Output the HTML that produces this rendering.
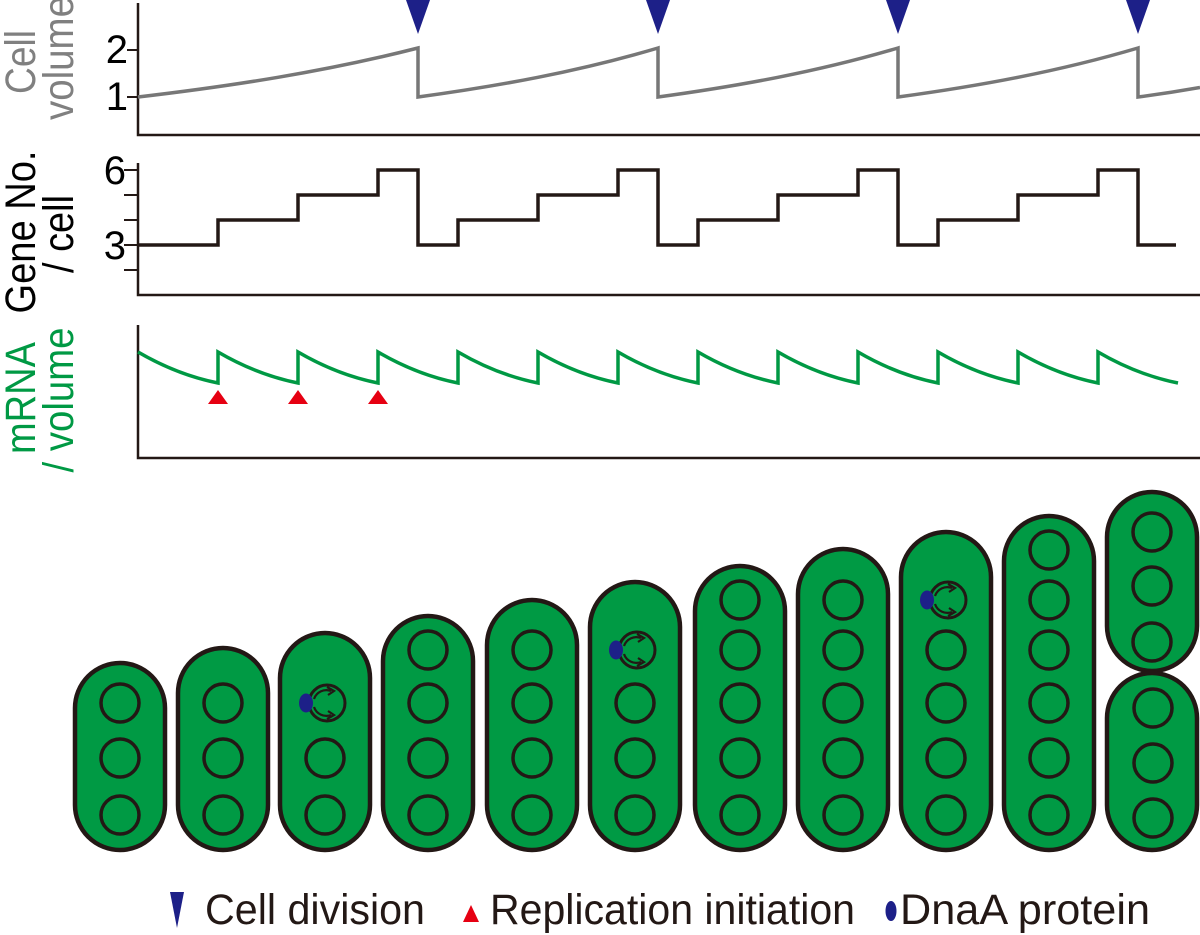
<!DOCTYPE html>
<html><head><meta charset="utf-8"><style>
html,body{margin:0;padding:0;background:#fff}
svg{display:block}
text{font-family:"Liberation Sans",Arial,sans-serif}
</style></head><body>
<svg width="1200" height="935" viewBox="0 0 1200 935" xmlns="http://www.w3.org/2000/svg">
<defs>
<g id="rep">
  <circle cx="0" cy="0" r="18" fill="none" stroke="#231815" stroke-width="3"/>
  <path d="M-13,-4 A13,13 0 0 1 4,-12" fill="none" stroke="#231815" stroke-width="2.2"/>
  <path d="M0,-16 L7,-12 L1,-8" fill="none" stroke="#231815" stroke-width="2.2"/>
  <path d="M-13,4 A13,13 0 0 0 4,12" fill="none" stroke="#231815" stroke-width="2.2"/>
  <path d="M1,8 L7,12 L0,16" fill="none" stroke="#231815" stroke-width="2.2"/>
  <ellipse cx="-21" cy="0" rx="7" ry="9.5" fill="#1d2088"/>
</g>
<circle id="c" cx="0" cy="0" r="19" fill="none" stroke="#231815" stroke-width="3.5"/>
</defs>

<g font-size="43">
<text transform="translate(35,62) rotate(-90)" text-anchor="middle" fill="#808080" textLength="64" lengthAdjust="spacingAndGlyphs">Cell</text>
<text transform="translate(73,58) rotate(-90)" text-anchor="middle" fill="#808080" textLength="124" lengthAdjust="spacingAndGlyphs">volume</text>
<text transform="translate(35,232) rotate(-90)" text-anchor="middle" fill="#000" textLength="163" lengthAdjust="spacingAndGlyphs">Gene No.</text>
<text transform="translate(73,234) rotate(-90)" text-anchor="middle" fill="#000" textLength="78" lengthAdjust="spacingAndGlyphs">/ cell</text>
<text transform="translate(35,398) rotate(-90)" text-anchor="middle" fill="#009944" textLength="112" lengthAdjust="spacingAndGlyphs">mRNA</text>
<text transform="translate(73,400) rotate(-90)" text-anchor="middle" fill="#009944" textLength="145" lengthAdjust="spacingAndGlyphs">/ volume</text>
</g>

<path d="M138,3 V135 H1200" fill="none" stroke="#231815" stroke-width="2.5"/>
<path d="M127,50 H138 M127,97 H138" stroke="#231815" stroke-width="2"/>
<text x="128" y="63" font-size="40" text-anchor="end">2</text>
<text x="128" y="110" font-size="40" text-anchor="end">1</text>
<path d="M138,97 C231,86.1 325,71.7 418,48 V97 C498,86.1 578,71.7 658,48 V97 C738,86.1 818,71.7 898,48 V97 C978,86.1 1058,71.7 1138,48 V97 Q1169,93 1200,87.5" fill="none" stroke="#777" stroke-width="3.5"/>
<g fill="#1d2088">
<polygon points="406,0 430,0 418,34"/>
<polygon points="646,0 670,0 658,34"/>
<polygon points="886,0 910,0 898,34"/>
<polygon points="1126,0 1150,0 1138,34"/>
</g>

<path d="M138,163 V295 H1200" fill="none" stroke="#231815" stroke-width="2.5"/>
<path d="M124,170 H138 M124,195 H138 M124,220 H138 M124,245 H138 M124,270 H138" stroke="#231815" stroke-width="2"/>
<text x="126" y="184" font-size="40" text-anchor="end">6</text>
<text x="126" y="259" font-size="40" text-anchor="end">3</text>
<path d="M138,245 H218 V220 H298 V195 H378 V170 H418 V245 H458 V220 H538 V195 H618 V170 H658 V245 H698 V220 H778 V195 H858 V170 H898 V245 H938 V220 H1018 V195 H1098 V170 H1138 V245 H1176" fill="none" stroke="#231815" stroke-width="3.5"/>

<path d="M138,325 V458 H1200" fill="none" stroke="#231815" stroke-width="2.5"/>
<path d="M138,352 C162,366 188,377 218,383 V352 C242,366 268,377 298,383 V352 C322,366 348,377 378,383 V352 C402,366 428,377 458,383 V352 C482,366 508,377 538,383 V352 C562,366 588,377 618,383 V352 C642,366 668,377 698,383 V352 C722,366 748,377 778,383 V352 C802,366 828,377 858,383 V352 C882,366 908,377 938,383 V352 C962,366 988,377 1018,383 V352 C1042,366 1068,377 1098,383 V352 C1122,366 1148,377 1178,383" fill="none" stroke="#009944" stroke-width="3.5"/>
<g fill="#e60012">
<polygon points="208,404 228,404 218,390"/>
<polygon points="288,404 308,404 298,390"/>
<polygon points="368,404 388,404 378,390"/>
</g>

<g fill="#009a44" stroke="#231815" stroke-width="4.5">
<rect x="75" y="663" width="90" height="187" rx="45"/>
<rect x="178" y="648" width="90" height="202" rx="45"/>
<rect x="280" y="633" width="90" height="217" rx="45"/>
<rect x="383" y="616" width="90" height="234" rx="45"/>
<rect x="487" y="600" width="90" height="250" rx="45"/>
<rect x="590" y="582" width="90" height="268" rx="45"/>
<rect x="695" y="566" width="90" height="284" rx="45"/>
<rect x="798" y="549" width="90" height="301" rx="45"/>
<rect x="901" y="532" width="90" height="318" rx="45"/>
<rect x="1004" y="516" width="90" height="334" rx="45"/>
<rect x="1107" y="492" width="90" height="179" rx="45"/>
<rect x="1107" y="673" width="90" height="177" rx="45"/>
</g>
<g>
<use href="#c" x="120" y="703"/><use href="#c" x="120" y="758"/><use href="#c" x="120" y="815"/>
<use href="#c" x="223" y="703"/><use href="#c" x="223" y="758"/><use href="#c" x="223" y="815"/>
<use href="#rep" x="327" y="703"/><use href="#c" x="325" y="758"/><use href="#c" x="325" y="815"/>
<use href="#c" x="428" y="650"/><use href="#c" x="428" y="703"/><use href="#c" x="428" y="758"/><use href="#c" x="428" y="815"/>
<use href="#c" x="532" y="650"/><use href="#c" x="532" y="703"/><use href="#c" x="532" y="758"/><use href="#c" x="532" y="815"/>
<use href="#rep" x="637" y="650"/><use href="#c" x="635" y="703"/><use href="#c" x="635" y="758"/><use href="#c" x="635" y="815"/>
<use href="#c" x="740" y="600"/><use href="#c" x="740" y="650"/><use href="#c" x="740" y="703"/><use href="#c" x="740" y="758"/><use href="#c" x="740" y="815"/>
<use href="#c" x="843" y="600"/><use href="#c" x="843" y="650"/><use href="#c" x="843" y="703"/><use href="#c" x="843" y="758"/><use href="#c" x="843" y="815"/>
<use href="#rep" x="948" y="600"/><use href="#c" x="946" y="650"/><use href="#c" x="946" y="703"/><use href="#c" x="946" y="758"/><use href="#c" x="946" y="815"/>
<use href="#c" x="1049" y="550"/><use href="#c" x="1049" y="600"/><use href="#c" x="1049" y="650"/><use href="#c" x="1049" y="703"/><use href="#c" x="1049" y="758"/><use href="#c" x="1049" y="815"/>
<use href="#c" x="1152" y="532"/><use href="#c" x="1152" y="586"/><use href="#c" x="1152" y="642"/>
<use href="#c" x="1153" y="708"/><use href="#c" x="1153" y="763"/><use href="#c" x="1153" y="818"/>
</g>

<polygon points="170,892 184,892 177,928" fill="#1d2088"/>
<text x="205" y="924" font-size="43" textLength="220" lengthAdjust="spacingAndGlyphs" fill="#231815">Cell division</text>
<polygon points="463,922 479,922 471,905" fill="#e60012"/>
<text x="490" y="924" font-size="43" textLength="365" lengthAdjust="spacingAndGlyphs" fill="#231815">Replication initiation</text>
<ellipse cx="891" cy="911" rx="5.5" ry="10" fill="#1d2088"/>
<text x="900" y="924" font-size="43" textLength="250" lengthAdjust="spacingAndGlyphs" fill="#231815">DnaA protein</text>
</svg>
</body></html>
